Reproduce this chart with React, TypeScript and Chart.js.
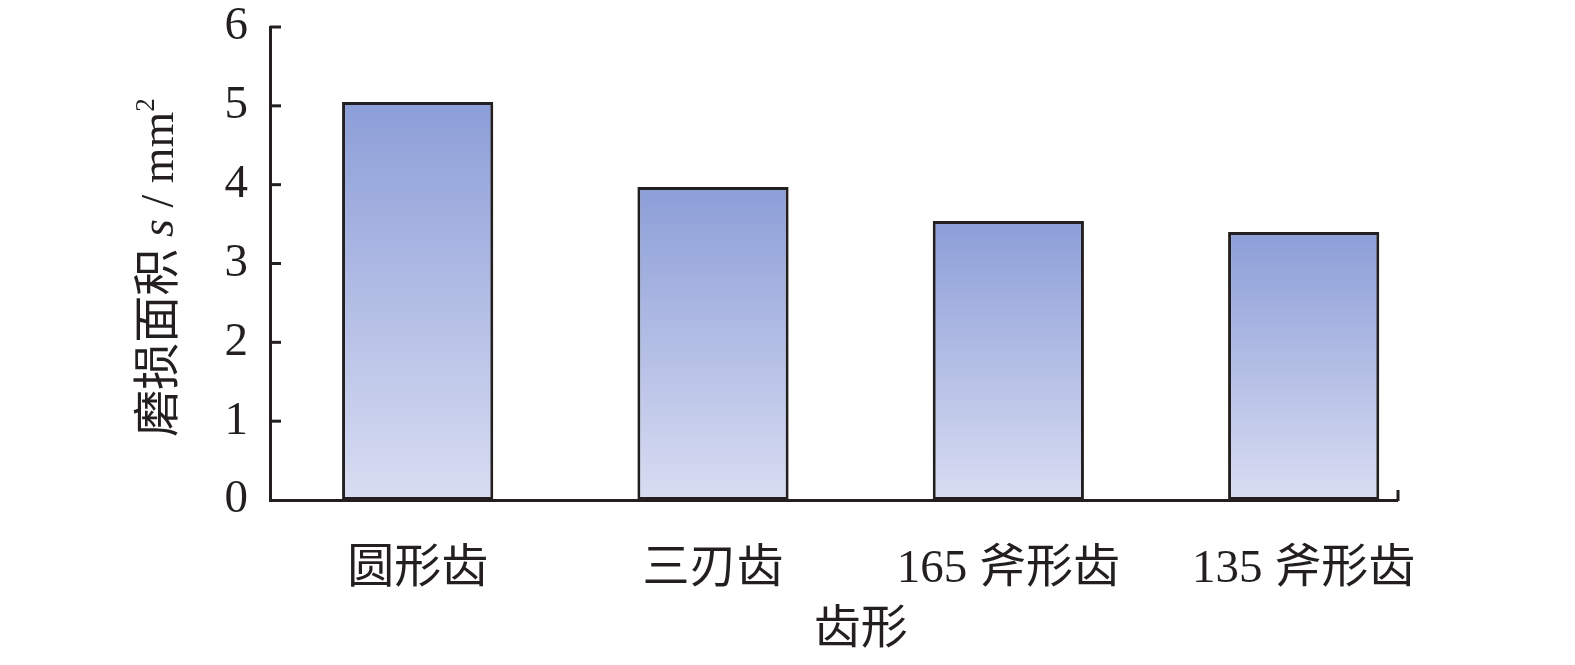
import React, { useEffect, useRef } from "react";
import { Chart, registerables } from "chart.js";

Chart.register(...registerables);

const categories = ["圆形齿", "三刃齿", "165 斧形齿", "135 斧形齿"];
const wearArea = [5.05, 3.97, 3.54, 3.4];
const yTicks = [0, 1, 2, 3, 4, 5, 6];

const INK = "#231f20";
const FONT = "'Liberation Serif', 'Noto Sans CJK SC', serif";

const decorPlugin = {
  id: "decor",
  afterDraw(chart: any) {
    const { ctx, chartArea, scales } = chart;
    const y = scales.y;
    const x = scales.x;
    ctx.save();
    ctx.strokeStyle = INK;
    ctx.lineWidth = 3;
    ctx.lineCap = "butt";
    yTicks.forEach((v) => {
      if (v === 0) return;
      const py = y.getPixelForValue(v);
      ctx.beginPath();
      ctx.moveTo(chartArea.left, py);
      ctx.lineTo(chartArea.left + 11, py);
      ctx.stroke();
    });
    ctx.beginPath();
    ctx.moveTo(chartArea.right + 1, chartArea.bottom + 1);
    ctx.lineTo(chartArea.right + 1, chartArea.bottom - 10);
    ctx.stroke();

    ctx.fillStyle = INK;
    ctx.font = `47px ${FONT}`;
    ctx.textAlign = "center";
    ctx.textBaseline = "middle";
    ctx.fillText("齿形", x.getPixelForValue(1.5), 631);

    ctx.translate(161, (chartArea.top + chartArea.bottom) / 2 + 4);
    ctx.rotate(-Math.PI / 2);
    ctx.textBaseline = "middle";
    ctx.textAlign = "left";
    const parts = [
      { t: "磨损面积 ", f: `47px ${FONT}`, dy: 0 },
      { t: "s", f: `italic 46px 'Liberation Serif'`, dy: 0 },
      { t: " / mm", f: `46px ${FONT}`, dy: 0 },
      { t: "2", f: `27px ${FONT}`, dy: -14 },
    ];
    let total = 0;
    parts.forEach((p) => {
      ctx.font = p.f;
      total += ctx.measureText(p.t).width;
    });
    let cx = -total / 2;
    parts.forEach((p) => {
      ctx.font = p.f;
      ctx.fillText(p.t, cx, p.dy);
      cx += ctx.measureText(p.t).width;
    });
    ctx.restore();
  },
};

export default function App() {
  const ref = useRef<HTMLCanvasElement>(null);
  useEffect(() => {
    if (!ref.current) return;
    const chart = new Chart(ref.current, {
      type: "bar",
      data: {
        datasets: [
          {
            data: wearArea.map((v, i) => ({ x: i, y: v })),
            backgroundColor: (c: any) => {
              const ch = c.chart;
              const ys = ch.scales && ch.scales.y;
              if (!ys || c.parsed == null) return "#a9b5e0";
              const top = ys.getPixelForValue(c.parsed.y);
              const bot = ys.getPixelForValue(0);
              if (!isFinite(top) || !isFinite(bot) || top === bot) return "#a9b5e0";
              const g = ch.ctx.createLinearGradient(0, top, 0, bot);
              g.addColorStop(0, "#8c9ed8");
              g.addColorStop(1, "#d9ddf2");
              return g;
            },
            borderColor: INK,
            borderWidth: 3,
            borderSkipped: false,
            barPercentage: 0.512,
            categoryPercentage: 1,
          },
        ],
      },
      options: {
        responsive: false,
        animation: false,
        events: [],
        layout: { padding: { top: 27, right: 178, bottom: 0, left: 0 } },
        plugins: {
          legend: { display: false },
          tooltip: { enabled: false },
        },
        scales: {
          x: {
            type: "linear",
            offset: false,
            bounds: "data",
            min: -0.5,
            max: 3.316,
            grid: { display: false, drawTicks: false, offset: false },
            border: { display: true, color: INK, width: 3 },
            afterDataLimits: (s: any) => {
              s.min = -0.5;
              s.max = 3.316;
            },
            afterBuildTicks: (s: any) => {
              s.ticks = categories.map((_, i) => ({ value: i }));
            },
            afterFit: (s: any) => {
              s.height = 165;
              s.paddingLeft = 0;
              s.paddingRight = 0;
            },
            ticks: {
              autoSkip: false,
              maxRotation: 0,
              padding: 46,
              color: INK,
              font: { family: FONT, size: 47, lineHeight: 1 },
              callback: (v: any) => categories[v] ?? "",
            },
          },
          y: {
            min: 0,
            max: 6,
            grid: { display: false, drawTicks: false },
            border: { display: true, color: INK, width: 3 },
            afterBuildTicks: (s: any) => {
              s.ticks = yTicks.map((v) => ({ value: v }));
            },
            afterFit: (s: any) => {
              s.width = 270;
              s.paddingTop = 0;
              s.paddingBottom = 0;
            },
            ticks: {
              padding: 22,
              color: INK,
              font: { family: FONT, size: 47, lineHeight: 1 },
            },
          },
        },
      },
      plugins: [decorPlugin],
    });
    return () => chart.destroy();
  }, []);
  return (
    <div style={{ position: "fixed", left: 0, top: 0, width: 1575, height: 665, background: "#fff" }}>
      <canvas ref={ref} width={1575} height={665} style={{ width: 1575, height: 665 }} />
    </div>
  );
}
